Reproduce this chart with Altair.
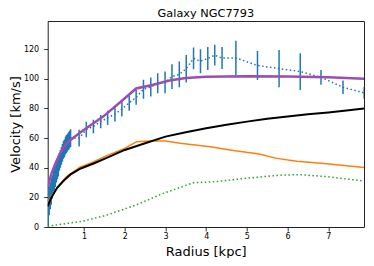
import altair as alt
import pandas as pd

# Observed rotation curve (radius kpc, velocity km/s, error)
obs_r = [0.12, 0.145, 0.17, 0.195, 0.22, 0.245, 0.27, 0.295, 0.32, 0.345, 0.37, 0.395,
         0.42, 0.445, 0.47, 0.495, 0.52, 0.545, 0.57, 0.595, 0.62, 0.645, 0.67,
         0.88, 1.056, 1.23, 1.41, 1.58, 1.76, 1.93, 2.11, 2.28, 2.46, 2.64, 2.81, 2.99,
         3.16, 3.34, 3.51, 3.69, 3.86, 4.04, 4.21, 4.39, 4.73, 5.26, 5.79, 6.31, 6.82,
         7.36, 7.88]
obs_v = [14, 18, 21, 24, 27, 30, 32, 34, 37, 39, 41, 44,
         46, 48, 50, 52, 53, 55, 56, 57, 58, 59, 60,
         60, 65.8, 67.8, 71.1, 73.7, 76.2, 79.6, 83.8, 87.5, 93.0, 94.5, 97.0, 97.6,
         101.5, 103, 106.8, 113.8, 111.9, 113.7, 115.9, 114, 114.1, 109, 106.9, 104.9, 101,
         94.3, 90.5]
obs_e = [13, 10, 9, 9, 8, 8, 8, 7, 7, 7, 7, 6,
         6, 6, 6, 6, 6, 6, 6, 6, 6, 6, 6,
         5.6, 5.3, 4.5, 4.5, 4.8, 5, 5, 5.3, 5, 6.4, 6.4, 6.7, 7.3,
         8.4, 8.7, 9.3, 7.3, 8.1, 7.7, 7, 7.4, 11.5, 9.8, 12.6, 12.4, 5,
         4.5, 4]

# Model components
gas_r = [0.11, 0.2, 0.35, 0.57, 0.9, 1.2, 1.56, 2.0, 2.29, 2.6, 3.0, 3.36, 4.1, 4.67,
         5.3, 5.73, 6.23, 6.96, 7.876]
gas_v = [17, 21, 27, 34, 40.3, 43.5, 48.2, 53, 57.6, 58, 58, 56.5, 54.2, 51.6,
         49.3, 46.3, 44.3, 42.6, 40.2]

star_r = [0.11, 0.98, 1.56, 2.29, 2.95, 3.69, 4.2, 5.0, 5.82, 6.3, 6.96, 7.876]
star_v = [0.5, 4, 8, 15, 22.7, 29.9, 30.5, 32.9, 35, 35.3, 34, 31]

halo_r = [0.11, 0.18, 0.34, 0.51, 0.67, 0.92, 1.25, 1.5, 2.0, 2.5, 3.0, 3.5, 4.0, 4.5,
          5.0, 5.5, 6.0, 6.5, 7.0, 7.5, 7.876]
halo_v = [14, 19, 26.5, 31.5, 35.5, 39.5, 43, 46, 52, 56.5, 61, 64, 66.6, 69,
          71.1, 73, 74.5, 76, 77.3, 78.8, 80]

tot_r = [0.11, 0.2, 0.3, 0.4, 0.5, 0.66, 0.94, 1.47, 1.88, 2.28, 2.7, 3.1, 3.5, 4.0,
         5.0, 6.0, 7.0, 7.876]
tot_v = [27, 36, 43, 49, 54, 58.5, 64.4, 74.5, 84, 93.5, 96, 98.8, 100.5, 101.3,
         101.8, 101.5, 101, 100]

x_ticks = [1, 2, 3, 4, 5, 6, 7]
y_ticks = [0, 20, 40, 60, 80, 100, 120]

FONT = "DejaVu Sans"
xs = alt.Scale(domain=[0.108, 7.876], nice=False, zero=False)
ys = alt.Scale(domain=[0, 139], nice=False)

obs = pd.DataFrame({"r": obs_r, "v": obs_v, "e": obs_e})
obs["lo"] = obs["v"] - obs["e"]
obs["hi"] = obs["v"] + obs["e"]

xaxis = alt.Axis(values=x_ticks, title="Radius [kpc]", grid=False, domain=False,
                 tickSize=4, tickColor="black", tickWidth=0.8, labelFont=FONT,
                 labelFontSize=8, labelColor="black", labelPadding=1.5,
                 titleFont=FONT, titleFontSize=13, titleFontWeight="normal",
                 titleColor="black", titleBaseline="alphabetic", titleY=28.3,
                 titleX=158)
yaxis = alt.Axis(values=y_ticks, title="Velocity [km/s]", grid=False, domain=False,
                 tickSize=4, tickColor="black", tickWidth=0.8, labelFont=FONT,
                 labelFontSize=8, labelColor="black", labelPadding=5,
                 titleFont=FONT, titleFontSize=13, titleFontWeight="normal",
                 titleColor="black", titleBaseline="alphabetic", titleAngle=270,
                 titleX=-28.0, titleY=103, titleAlign="center")

base_x = alt.X("r:Q", scale=xs, axis=xaxis)
base_y = alt.Y("v:Q", scale=ys, axis=yaxis)

err = alt.Chart(obs).mark_rule(color="#1f77b4", strokeWidth=1.5, clip=True).encode(
    x=alt.X("r:Q", scale=xs, axis=xaxis),
    y=alt.Y("lo:Q", scale=ys, axis=yaxis),
    y2="hi:Q",
)
obs_line = alt.Chart(obs).mark_line(color="#1f77b4", strokeWidth=1.5,
                                    strokeDash=[1.5, 2.5], clip=True).encode(x=base_x, y=base_y)

def curve(rr, vv, color, width, dash=None):
    df = pd.DataFrame({"r": rr, "v": vv})
    kw = dict(color=color, strokeWidth=width, clip=True)
    if dash:
        kw["strokeDash"] = dash
    return alt.Chart(df).mark_line(**kw).encode(x=base_x, y=base_y)

gas = curve(gas_r, gas_v, "#ff7f0e", 1.5)
star = curve(star_r, star_v, "#2ca02c", 1.5, [1.5, 2.5])
halo = curve(halo_r, halo_v, "black", 2)
tot = curve(tot_r, tot_v, "#9b4db3", 2.5)

chart = alt.layer(err, obs_line, gas, star, halo, tot).properties(
    width=316.3, height=206,
    title=alt.TitleParams("Galaxy NGC7793", font=FONT, fontSize=11.3,
                          fontWeight="normal", color="black", anchor="middle",
                          offset=1.5),
    autosize=alt.AutoSizeParams(type="none"),
    padding={"left": 39.7, "top": 13, "right": 2, "bottom": 31},
).configure_view(stroke="#222222", strokeWidth=1)

chart.save("out.html", embed_options={"renderer": "svg", "actions": False})
